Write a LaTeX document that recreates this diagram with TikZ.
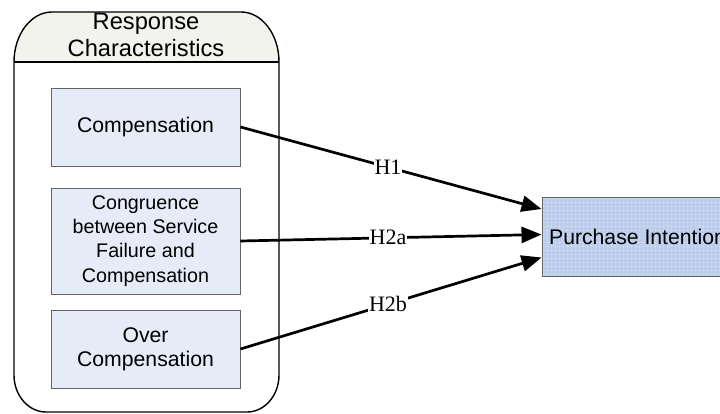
\documentclass[tikz,border=0pt]{standalone}
\usepackage{fontspec}
\usetikzlibrary{arrows.meta,calc,patterns.meta}
\newfontfamily\arialf{Liberation Sans}
\newfontfamily\timesf{Liberation Serif}
\definecolor{boxfill}{RGB}{230,236,247}
\definecolor{boxline}{RGB}{100,100,100}
\definecolor{hdrfill}{RGB}{243,243,237}
\definecolor{pifill}{RGB}{188,206,234}
\definecolor{pidot}{RGB}{218,228,244}
\tikzset{
  factor/.style={draw=boxline, line width=0.9pt, fill=boxfill, rectangle,
    minimum width=189pt, align=center, inner sep=0pt,
    font=\arialf\fontsize{21.2}{24.4}\selectfont},
  hdr/.style={anchor=base, inner sep=0pt, font=\arialf\fontsize{23.7}{27.3}\selectfont},
  conn/.style={line width=2.7pt, -{Triangle[length=20pt,width=16pt]}},
  hlbl/.style={fill=white, inner sep=1pt, font=\timesf\fontsize{22}{22}\selectfont}
}
\begin{document}
\begin{tikzpicture}[x=1pt,y=-1pt]
\useasboundingbox (0,0) rectangle (720,414);
% container
\path[fill=white] (14,62) .. controls (14,34.4) and (31,12) .. (52,12) -- (241,12)
  .. controls (262,12) and (279,34.4) .. (279,62) -- (279,375)
  .. controls (279,395.4) and (264.7,412) .. (247,412) -- (46,412)
  .. controls (28.3,412) and (14,395.4) .. (14,375) -- cycle;
\path[fill=hdrfill] (14,62) .. controls (14,34.4) and (31,12) .. (52,12) -- (241,12)
  .. controls (262,12) and (279,34.4) .. (279,62) -- cycle;
\draw[line width=1.4pt] (14,62) .. controls (14,34.4) and (31,12) .. (52,12) -- (241,12)
  .. controls (262,12) and (279,34.4) .. (279,62) -- (279,375)
  .. controls (279,395.4) and (264.7,412) .. (247,412) -- (46,412)
  .. controls (28.3,412) and (14,395.4) .. (14,375) -- cycle;
\draw[line width=1.2pt] (14,62) -- (279,62);
\node[hdr] (hdr1) at (146,29.3) {Response};
\node[hdr] (hdr2) at (146,56.7) {Characteristics};
% factor boxes
\node[factor, minimum height=78pt] (c1) at (145.5,127) {Compensation};
\node[factor, minimum height=106pt, font=\arialf\fontsize{19.7}{24.2}\selectfont] (c2) at (145.5,241)
  {Congruence\\between Service\\Failure and\\Compensation};
\node[factor, minimum height=78pt] (c3) at (145.5,349) {Over\\Compensation};
% outcome
\node[draw=boxline, line width=0.9pt, minimum width=191pt, minimum height=79pt,
  preaction={fill=pifill}, pattern={Dots[distance=4pt, radius=1.1pt]}, pattern color=pidot, inner sep=0pt,
  font=\arialf\fontsize{21.2}{24.4}\selectfont] (pi) at (637.5,236.5) {Purchase Intention};
% connectors
\draw[conn] (c1.east) -- node[hlbl, pos=0.49] (h1) {H1} ($(pi.west)+(0,-27.5)$);
\draw[conn] (c2.east) -- node[hlbl, pos=0.49] (h2a) {H2a} ($(pi.west)+(0,-2)$);
\draw[conn] (c3.east) -- node[hlbl, pos=0.49] (h2b) {H2b} ($(pi.west)+(0,21)$);
\end{tikzpicture}
\end{document}
